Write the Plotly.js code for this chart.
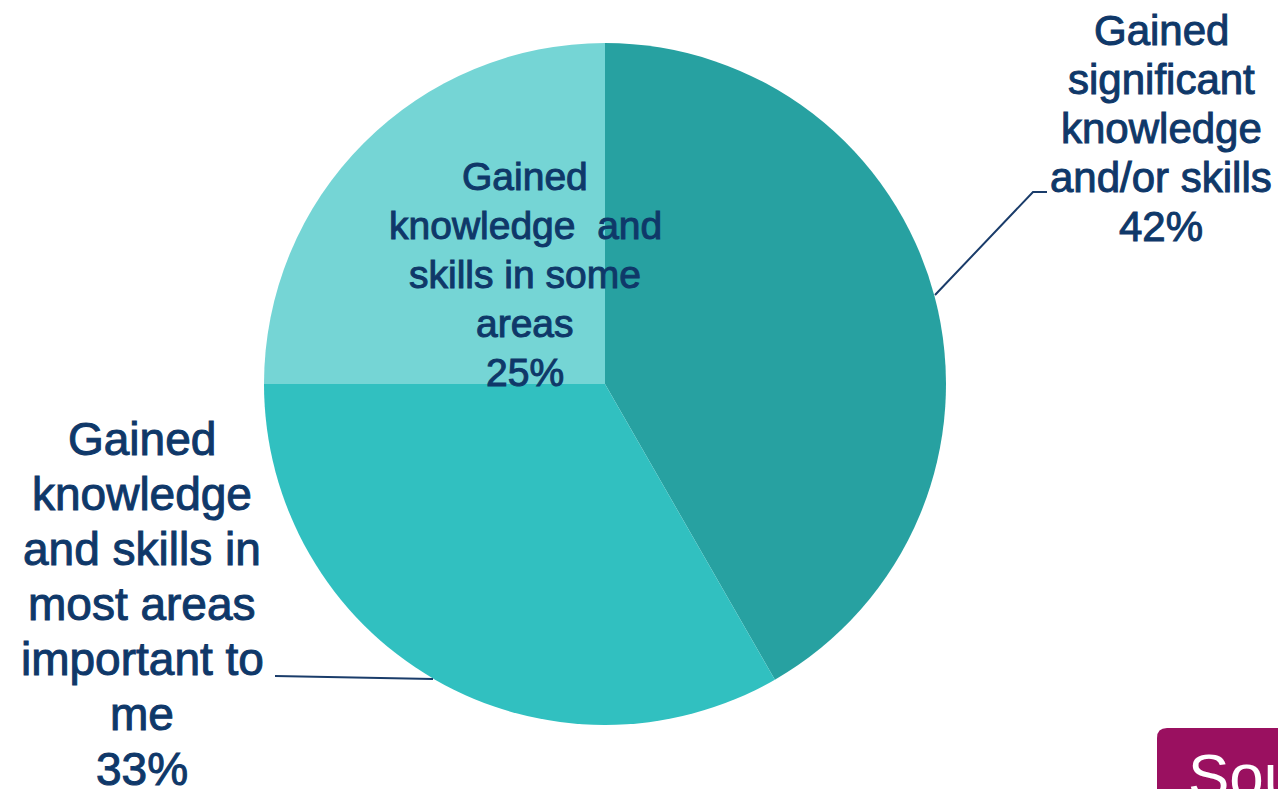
<!DOCTYPE html>
<html>
<head>
<meta charset="utf-8">
<script src="https://cdn.plot.ly/plotly-3.0.1.min.js"></script>
<style>
  html, body { margin: 0; padding: 0; background: #ffffff; }
  #chart { width: 1278px; height: 789px; }
  #chart .annotation.lbl .annotation-text { stroke: #0F3869; stroke-width: 1px; }
</style>
</head>
<body>
<div id="chart"></div>
<script>
// ---- data ----
const categories = [
  'Gained significant knowledge and/or skills',
  'Gained knowledge and skills in most areas important to me',
  'Gained knowledge and skills in some areas'
];
// line-broken label text as shown on the chart
const labelLines = [
  ['Gained', 'significant', 'knowledge', 'and/or skills'],
  ['Gained', 'knowledge', 'and skills in', 'most areas', 'important to', 'me'],
  ['Gained', 'knowledge  and', 'skills in some', 'areas']
];
const values = [41.7, 33.3, 25.0];
const sliceColors = ['#27A1A1', '#31C0C0', '#75D5D5'];

// ---- layout helpers ----
const W = 1278, H = 789;
const px = x => x / W;
const py = y => 1 - y / H;

const textColor = '#0F3869';
const fontFam = 'Liberation Sans, Arial, sans-serif';
const total = values.reduce((a, b) => a + b, 0);

// label block placement (center x, first baseline, line step, font size)
const labelPlace = [
  { cx: 1161, base: 45, step: 49, size: 42 },
  { cx: 142, base: 455, step: 55, size: 46 },
  { cx: 525, base: 190, step: 49, size: 39 }
];

const annotations = [];
labelLines.forEach((lines, i) => {
  const p = labelPlace[i];
  const pct = Math.round(values[i] / total * 100) + '%';
  const all = lines.concat([pct]);
  all.forEach((t, j) => {
    const baseline = p.base + j * p.step;
    annotations.push({
      xref: 'paper', yref: 'paper',
      x: px(p.cx), y: py(baseline - 0.345 * p.size),
      xanchor: 'center', yanchor: 'middle',
      text: t, showarrow: false,
      font: { family: fontFam, size: p.size, color: textColor }
    });
  });
});
const nLabelAnn = annotations.length;

// logo text (partially visible, cut by the page edge as in the reference)
annotations.push({
  xref: 'paper', yref: 'paper',
  x: px(1186), y: py(739),
  xanchor: 'left', yanchor: 'top',
  text: 'Sou', showarrow: false,
  font: { family: 'Liberation Sans, Arial, sans-serif', size: 62, color: '#ffffff' }
});

const lineStyle = { color: '#1A3C6A', width: 2 };
const shapes = [
  { type: 'path', xref: 'paper', yref: 'paper',
    path: 'M ' + px(935) + ' ' + py(295) + ' L ' + px(1033) + ' ' + py(192) + ' L ' + px(1047) + ' ' + py(192),
    line: lineStyle },
  { type: 'line', xref: 'paper', yref: 'paper',
    x0: px(275), y0: py(676), x1: px(433), y1: py(679),
    line: lineStyle },
  // logo box
  { type: 'path', xref: 'paper', yref: 'paper',
    path: 'M ' + px(1157) + ' ' + py(800) + ' L ' + px(1157) + ' ' + py(738) +
          ' Q ' + px(1157) + ' ' + py(728) + ' ' + px(1167) + ' ' + py(728) +
          ' L ' + px(1290) + ' ' + py(728) + ' L ' + px(1290) + ' ' + py(800) + ' Z',
    fillcolor: '#9A1060', line: { width: 0 }, layer: 'below' }
];

const cx = 605, cy = 384, r = 341;

const trace = {
  type: 'pie',
  labels: categories,
  values: values,
  sort: false,
  direction: 'clockwise',
  rotation: 0,
  textinfo: 'none',
  hoverinfo: 'label+percent',
  marker: { colors: sliceColors, line: { width: 0 } },
  domain: { x: [px(cx - r), px(cx + r)], y: [py(cy + r), py(cy - r)] },
  showlegend: false
};

const layout = {
  width: W, height: H,
  margin: { l: 0, r: 0, t: 0, b: 0 },
  paper_bgcolor: '#ffffff',
  plot_bgcolor: '#ffffff',
  showlegend: false,
  annotations: annotations,
  shapes: shapes
};

Plotly.newPlot('chart', [trace], layout, { displayModeBar: false, staticPlot: true }).then(gd => {
  gd.querySelectorAll('.annotation').forEach(a => {
    const idx = +a.getAttribute('data-index');
    if (idx < nLabelAnn) a.classList.add('lbl');
  });
});
</script>
</body>
</html>
